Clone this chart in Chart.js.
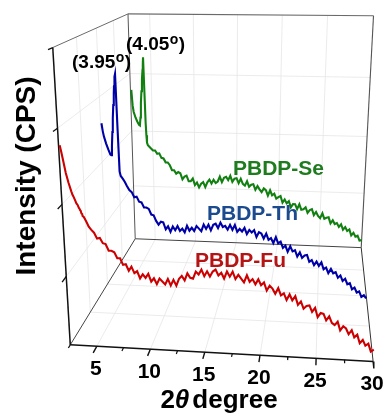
<!DOCTYPE html>
<html>
<head>
<meta charset="utf-8">
<script src="https://cdn.jsdelivr.net/npm/chart.js@4.4.1/dist/chart.umd.min.js"></script>
<style>
  html, body { margin: 0; padding: 0; background: #ffffff; }
  canvas { display: block; }
</style>
</head>
<body>
<canvas id="c" width="391" height="414"></canvas>
<script>
// ---------------- DATA ----------------
const twoTheta = [
  2.6, 2.7, 2.8, 3.0, 3.2, 3.4, 3.5, 3.6, 3.7, 3.8, 3.9, 4.0, 4.05, 4.1, 4.15, 4.2, 4.25, 4.3, 4.4, 4.6, 4.8, 5.0,
  5.25, 5.5, 5.75, 6.0,   6.25, 6.5, 6.75, 7.0,   7.25, 7.5, 7.75, 8.0,   8.25, 8.5, 8.75, 9.0,
  9.25, 9.5, 9.75, 10.0,  10.25, 10.5, 10.75, 11.0, 11.25, 11.5, 11.75, 12.0, 12.25, 12.5, 12.75, 13.0,
  13.25, 13.5, 13.75, 14.0, 14.25, 14.5, 14.75, 15.0, 15.25, 15.5, 15.75, 16.0, 16.25, 16.5, 16.75, 17.0,
  17.25, 17.5, 17.75, 18.0, 18.25, 18.5, 18.75, 19.0, 19.25, 19.5, 19.75, 20.0, 20.25, 20.5, 20.75, 21.0,
  21.25, 21.5, 21.75, 22.0, 22.25, 22.5, 22.75, 23.0, 23.25, 23.5, 23.75, 24.0, 24.25, 24.5, 24.75, 25.0,
  25.25, 25.5, 25.75, 26.0, 26.25, 26.5, 26.75, 27.0, 27.25, 27.5, 27.75, 28.0, 28.25, 28.5, 28.75, 29.0,
  29.25, 29.5, 29.75, 30.0
];

// PBDP-Fu (front)
const fuIntensity = [
  2.78, 2.70, 2.61, 2.42, 2.29, 2.18, 2.13, 2.10, 2.06, 2.02, 2.00, 1.96, 1.95, 1.93, 1.92, 1.89, 1.89, 1.85, 1.84, 1.78, 1.71, 1.67,
  1.63, 1.55, 1.56, 1.49,  1.48, 1.39, 1.39, 1.37,  1.29, 1.29, 1.20, 1.21,  1.12, 1.18, 1.09, 1.12,
  1.02, 1.08, 1.03, 1.09,  0.98, 1.03, 0.95, 1.03,  0.99, 0.95, 1.03, 0.94,  1.02, 0.94, 1.04, 1.08,
  1.02, 1.12, 1.06, 1.05,  1.15, 1.11, 1.18, 1.09,  1.16, 1.09, 1.16, 1.19,  1.11, 1.15, 1.07, 1.17,
  1.10, 1.17, 1.07, 1.13,  1.08, 1.03, 1.13, 1.04,  1.08, 1.01, 1.08, 1.00,  1.04, 0.93, 1.00, 0.96,
  0.89, 0.97, 0.87, 0.90,  0.81, 0.89, 0.81, 0.87,  0.75, 0.80, 0.70, 0.74,  0.75, 0.66, 0.72, 0.59,
  0.65, 0.64, 0.55, 0.61,  0.52, 0.49, 0.54, 0.42,  0.48, 0.45, 0.37, 0.43,  0.33, 0.37, 0.25, 0.30,
  0.22, 0.25, 0.14, 0.17
];

// PBDP-Th (middle)
const thIntensity = [
  2.60, 2.48, 2.40, 2.29, 2.20, 2.12, 2.11, 2.26, 2.47, 2.68, 2.88, 3.06, 3.16, 3.24, 3.30, 3.34, 2.50, 1.86, 1.79, 1.75, 1.70, 1.64,
  1.57, 1.54, 1.46, 1.47,  1.39, 1.38, 1.30, 1.30,  1.28, 1.19, 1.18, 1.09,  1.03, 1.08, 1.07, 0.96,
  1.01, 0.92, 1.01, 0.95,  1.02, 0.94, 0.98, 0.92,  1.03, 0.95, 1.00, 0.95,  1.03, 0.99, 0.95, 1.06,
  0.99, 1.06, 0.97, 1.06,  1.08, 1.01, 1.10, 1.03,  1.05, 0.99, 1.07, 0.99,  1.07, 0.96, 1.01, 0.97,
  1.03, 0.93, 1.00, 0.96,  1.00, 0.89, 0.97, 0.95,  0.87, 0.95, 0.85, 0.88,  0.80, 0.90, 0.80, 0.83,
  0.73, 0.77, 0.67, 0.76,  0.68, 0.70, 0.60, 0.67,  0.58, 0.62, 0.63, 0.52,  0.55, 0.47, 0.53, 0.46,
  0.52, 0.41, 0.44, 0.35,  0.42, 0.35, 0.37, 0.28,  0.32, 0.23, 0.27, 0.18,  0.20, 0.10, 0.13, 0.05,
  0.07, -0.02, 0.01, -0.04
];

// PBDP-Se (back)
const seIntensity = [
  2.72, 2.45, 2.34, 2.24, 2.17, 2.11, 2.10, 2.24, 2.50, 2.70, 2.90, 3.07, 3.16, 3.28, 2.70, 2.15, 1.93, 1.80, 1.75, 1.72, 1.69, 1.66,
  1.66, 1.60, 1.61, 1.53,  1.52, 1.45, 1.45, 1.40,  1.31, 1.31, 1.25, 1.28,  1.26, 1.15, 1.20, 1.22,
  1.12, 1.12, 1.17, 1.05,  1.10, 1.01, 1.08, 1.11,  1.02, 1.11, 1.16, 1.09,  1.16, 1.10, 1.13, 1.22,
  1.12, 1.20, 1.22, 1.16,  1.24, 1.13, 1.19, 1.20,  1.11, 1.19, 1.10, 1.07,  1.15, 1.05, 1.09, 1.10,
  1.00, 1.07, 1.01, 0.96,  1.03, 1.00, 0.90, 1.00,  0.91, 0.94, 0.85, 0.88,  0.90, 0.78, 0.84, 0.77,
  0.81, 0.70, 0.76, 0.76,  0.67, 0.76, 0.66, 0.67,  0.71, 0.61, 0.66, 0.68,  0.57, 0.63, 0.56, 0.52,
  0.61, 0.51, 0.53, 0.54,  0.43, 0.49, 0.42, 0.44,  0.37, 0.42, 0.32, 0.37,  0.30, 0.33, 0.22, 0.27,
  0.20, 0.22, 0.13, 0.14
];

const seriesNames = ['PBDP-Fu', 'PBDP-Th', 'PBDP-Se'];
const peakLabels = ['(3.95', '(4.05'];
const xTickValues = [5, 10, 15, 20, 25, 30];
const xTickLabels = ['5', '10', '15', '20', '25', '30'];
const xMinorTicks = [2.5, 7.5, 12.5, 17.5, 22.5, 27.5];
const yTickValues = [1, 2, 3, 4];
const depthGrid = [0.25, 0.5, 0.75];
const xGrid = [5, 10, 15, 20, 25];
const yGrid = [1, 2, 3];

// ---------------- VIEW (3D box, perspective) ----------------
const X0 = 2.5, X1 = 30, YTOP = 4;
const seriesDepth = [0, 0.5, 1];
// view anchors: [2theta, level, depth, px, py]
const viewAnchors = [
  [2.5,0,0,70,344],[5,0,0,97.5,346],[10,0,0,150,349],[15,0,0,205,352],[20,0,0,260,355.3],
  [25,0,0,316,358.6],[30,0,0,373,362],[2.5,1,0,66.2,277],[2.5,2,0,62,205],[2.5,3,0,57.6,128],
  [2.5,4,0,53,47],[2.5,4,1,128,13],[2.5,3,1,130,74],[2.5,2,1,131.6,133],[2.5,0,1,135,238],
  [10,4,1,194,14],[15,4,1,238,14.5],[20,4,1,282,15],[25,4,1,327,15.5],
  [30,4,1,373,16],[30,0,1,362,247],[2.5,0,0.5,106.8,284.5]
];

function solve(A, b) {
  const n = b.length;
  for (let i = 0; i < n; i++) {
    let p = i;
    for (let r = i + 1; r < n; r++) if (Math.abs(A[r][i]) > Math.abs(A[p][i])) p = r;
    [A[i], A[p]] = [A[p], A[i]]; [b[i], b[p]] = [b[p], b[i]];
    for (let r = i + 1; r < n; r++) {
      const f = A[r][i] / A[i][i];
      for (let c = i; c < n; c++) A[r][c] -= f * A[i][c];
      b[r] -= f * b[i];
    }
  }
  const x = new Array(n).fill(0);
  for (let i = n - 1; i >= 0; i--) {
    let s = b[i];
    for (let c = i + 1; c < n; c++) s -= A[i][c] * x[c];
    x[i] = s / A[i][i];
  }
  return x;
}
function fitCamera(pairs) {
  const n = 11, A = [], b = new Array(n).fill(0);
  for (let i = 0; i < n; i++) A.push(new Array(n).fill(0));
  const add = (row, r) => {
    for (let i = 0; i < n; i++) { b[i] += row[i] * r; for (let j = 0; j < n; j++) A[i][j] += row[i] * row[j]; }
  };
  for (const [X, Y, Z, u, v] of pairs) {
    const x = (X - X0) / (X1 - X0), y = Y / YTOP, z = Z, uu = u / 400, vv = v / 400;
    add([x, y, z, 1, 0, 0, 0, 0, -uu * x, -uu * y, -uu * z], uu);
    add([0, 0, 0, 0, x, y, z, 1, -vv * x, -vv * y, -vv * z], vv);
  }
  return solve(A, b);
}
const P = fitCamera(viewAnchors);
function project(X, Y, Z) {
  const x = (X - X0) / (X1 - X0), y = Y / YTOP, z = Z;
  const w = P[8] * x + P[9] * y + P[10] * z + 1;
  return { x: 400 * (P[0] * x + P[1] * y + P[2] * z + P[3]) / w,
           y: 400 * (P[4] * x + P[5] * y + P[6] * z + P[7]) / w };
}

// ---------------- DATASETS ----------------
const datasets = [];
function seg(a, b, color, width, order) {
  datasets.push({ data: [project(...a), project(...b)], borderColor: color, borderWidth: width,
    showLine: true, pointRadius: 0, tension: 0, order: order, fill: false });
}
const seriesValues = [fuIntensity, thIntensity, seIntensity];
const seriesColors = ['#cc0000', '#0000a8', '#118011'];
seriesValues.forEach((vals, s) => {
  datasets.push({
    label: seriesNames[s],
    data: twoTheta.map((t, i) => project(t, vals[i], seriesDepth[s])),
    borderColor: seriesColors[s], borderWidth: 2.1, borderJoinStyle: 'miter', showLine: true, pointRadius: 0,
    tension: 0, order: s * 0.1, fill: false
  });
});
const GRID = '#e6e6e6';
// back wall grid
xGrid.forEach(v => seg([v, 0, 1], [v, YTOP, 1], GRID, 0.8, 10));
yGrid.forEach(v => seg([X0, v, 1], [X1, v, 1], GRID, 0.8, 10));
// floor grid
xGrid.forEach(v => seg([v, 0, 0], [v, 0, 1], GRID, 0.8, 10));
depthGrid.forEach(d => seg([X0, 0, d], [X1, 0, d], GRID, 0.8, 10));
// left wall grid
yGrid.forEach(v => seg([X0, v, 0], [X0, v, 1], GRID, 0.8, 10));
depthGrid.forEach(d => seg([X0, 0, d], [X0, YTOP, d], GRID, 0.8, 10));
// box edges
seg([X0, YTOP, 0], [X0, YTOP, 1], '#6a6a6a', 1, 5);
seg([X0, 0, 1], [X0, YTOP, 1], '#555555', 1, 5);
seg([X0, YTOP, 1], [X1, YTOP, 1], '#6a6a6a', 1.1, 5);
seg([X1, 0, 1], [X1, YTOP, 1], '#555555', 1.1, 5);
seg([X0, 0, 1], [X1, 0, 1], '#444444', 1, 5);
seg([X0, 0, 0], [X0, 0, 1], '#444444', 1, 5);
seg([X1, 0, 0], [X1, 0, 1], '#333333', 1, 5);
// axes
seg([X0, 0, 0], [X1, 0, 0], '#111111', 1.5, 4);
seg([X0, 0, 0], [X0, YTOP, 0], '#111111', 1.5, 4);
xTickValues.forEach(v => seg([v, 0, 0], [v, 0, -0.045], '#111111', 1.4, 4));
xMinorTicks.forEach(v => seg([v, 0, 0], [v, 0, -0.022], '#111111', 1.2, 4));
yTickValues.forEach(v => seg([X0, v, 0], [X0, v, -0.045], '#111111', 1.3, 4));

// ---------------- TEXT ----------------
const FONT = '"Liberation Sans", Arial, Helvetica, sans-serif';
const textPlugin = {
  id: 'texts',
  afterDraw(chart) {
    const ctx = chart.ctx;
    ctx.save();
    ctx.fillStyle = '#000';
    // tick labels
    ctx.textAlign = 'center'; ctx.textBaseline = 'alphabetic';
    xTickValues.forEach((v, i) => {
      const p = project(v, 0, 0);
      ctx.font = 'bold 21px ' + FONT;
      ctx.fillText(xTickLabels[i], p.x - 1, p.y + 28.5);
    });
    // y title
    ctx.save();
    ctx.translate(27, 176);
    ctx.rotate(-Math.PI / 2);
    ctx.font = 'bold 28px ' + FONT;
    ctx.textAlign = 'center'; ctx.textBaseline = 'middle';
    ctx.fillText('Intensity (CPS)', 0, 0);
    ctx.restore();
    // x title: 2θ degree
    ctx.textAlign = 'left'; ctx.textBaseline = 'alphabetic';
    const f1 = 'bold 26px ' + FONT, f2 = 'bold italic 26px ' + FONT;
    ctx.font = f1; const w1 = ctx.measureText('2').width;
    ctx.font = f2; const w2 = ctx.measureText('θ').width;
    ctx.font = f1; const w3 = ctx.measureText('degree').width;
    let x0 = 219 - (w1 + w2 + w3 + 3) / 2;
    ctx.font = f1; ctx.fillText('2', x0, 408);
    ctx.font = f2; ctx.fillText('θ', x0 + w1, 408);
    ctx.font = f1; ctx.fillText('degree', x0 + w1 + w2 + 3, 408);
    // peak labels with superscript o
    const peakPos = [[72, 68], [126, 50]];
    peakLabels.forEach((t, i) => {
      const [px, py] = peakPos[i];
      ctx.font = 'bold 19px ' + FONT;
      ctx.fillText(t, px, py);
      let w = ctx.measureText(t).width;
      ctx.font = 'bold 14px ' + FONT;
      ctx.fillText('o', px + w + 0.5, py - 6);
      const wo = ctx.measureText('o').width;
      ctx.font = 'bold 19px ' + FONT;
      ctx.fillText(')', px + w + wo + 1, py);
    });
    // series labels
    ctx.font = 'bold 21px ' + FONT;
    ctx.fillStyle = '#1e7b1e'; ctx.fillText(seriesNames[2], 233, 175);
    ctx.fillStyle = '#1b4a8e'; ctx.fillText(seriesNames[1], 207, 220);
    ctx.fillStyle = '#b41414'; ctx.fillText(seriesNames[0], 195, 267);
    ctx.restore();
  }
};

new Chart(document.getElementById('c'), {
  type: 'scatter',
  data: { datasets },
  options: {
    responsive: false, animation: false, devicePixelRatio: 1, events: [],
    layout: { padding: 0 },
    plugins: { legend: { display: false }, tooltip: { enabled: false } },
    scales: {
      x: { type: 'linear', min: 0, max: 391, display: false },
      y: { type: 'linear', min: 0, max: 414, reverse: true, display: false }
    }
  },
  plugins: [textPlugin]
});
if (fuIntensity.length !== twoTheta.length || thIntensity.length !== twoTheta.length || seIntensity.length !== twoTheta.length) {
  console.error('length mismatch', twoTheta.length, fuIntensity.length, thIntensity.length, seIntensity.length);
}
</script>
</body>
</html>
